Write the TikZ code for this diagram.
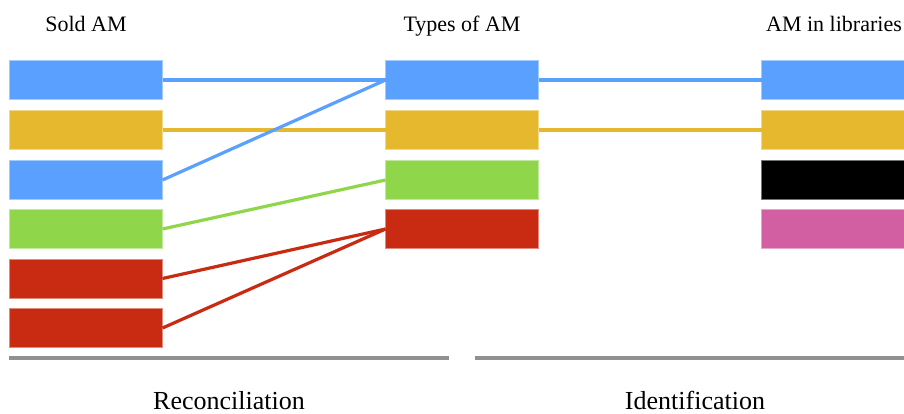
\documentclass[tikz,border=0pt]{standalone}
\usepackage{fontspec}
\setmainfont{Liberation Serif}
\definecolor{cblue}{HTML}{5AA0FF}
\definecolor{cyellow}{HTML}{E6B82E}
\definecolor{cgreen}{HTML}{8FD64B}
\definecolor{cred}{HTML}{C92A12}
\definecolor{cpink}{HTML}{D35FA3}
\definecolor{cgray}{HTML}{909090}
\begin{document}
\begin{tikzpicture}[x=1pt,y=-1pt,
  bar/.style={draw=#1!55!white, fill=#1, line width=0.8pt, minimum width=153pt, minimum height=39pt, inner sep=0pt, outer sep=0pt},
  link/.style={draw=#1, line width=3.2pt},
  head/.style={font=\fontsize{22}{24}\selectfont, anchor=base},
  foot/.style={font=\fontsize{26}{28}\selectfont, anchor=base},
  rule/.style={draw=cgray, line width=3.6pt}]
\useasboundingbox (0,0) rectangle (904,414);
\clip (0,0) rectangle (904,414);
% left column
\node[bar=cblue]   (l1) at (86,80) {};
\node[bar=cyellow] (l2) at (86,130) {};
\node[bar=cblue]   (l3) at (86,180) {};
\node[bar=cgreen]  (l4) at (86,229) {};
\node[bar=cred]    (l5) at (86,278.5) {};
\node[bar=cred]    (l6) at (86,328) {};
% middle column
\node[bar=cblue]   (m1) at (462,80) {};
\node[bar=cyellow] (m2) at (462,130) {};
\node[bar=cgreen]  (m3) at (462,180) {};
\node[bar=cred]    (m4) at (462,229) {};
% right column
\node[bar=cblue]   (r1) at (838,80) {};
\node[bar=cyellow] (r2) at (838,130) {};
\node[bar=black]   (r3) at (838,180) {};
\node[bar=cpink]   (r4) at (838,229) {};
% connectors
\draw[link=cblue]   (l1.east) -- (m1.west);
\draw[link=cyellow] (l2.east) -- (m2.west);
\draw[link=cblue]   (l3.east) -- (m1.west);
\draw[link=cgreen]  (l4.east) -- (m3.west);
\draw[link=cred]    (l5.east) -- (m4.west);
\draw[link=cred]    (l6.east) -- (m4.west);
\draw[link=cblue]   (m1.east) -- (r1.west);
\draw[link=cyellow] (m2.east) -- (r2.west);
% headings
\node[head] (h1) at (86,31.5) {Sold AM};
\node[head] (h2) at (462,31.5) {Types of AM};
\node[head] (h3) at (834,31.5) {AM in libraries};
% rules
\coordinate (a1) at (9,358);
\coordinate (a2) at (449,358);
\coordinate (b1) at (475,358);
\coordinate (b2) at (910,358);
\draw[rule] (a1) -- (a2);
\draw[rule] (b1) -- (b2);
\node[foot] (f1) at (229,409) {Reconciliation};
\node[foot] (f2) at (695,409) {Identification};
\end{tikzpicture}
\end{document}
